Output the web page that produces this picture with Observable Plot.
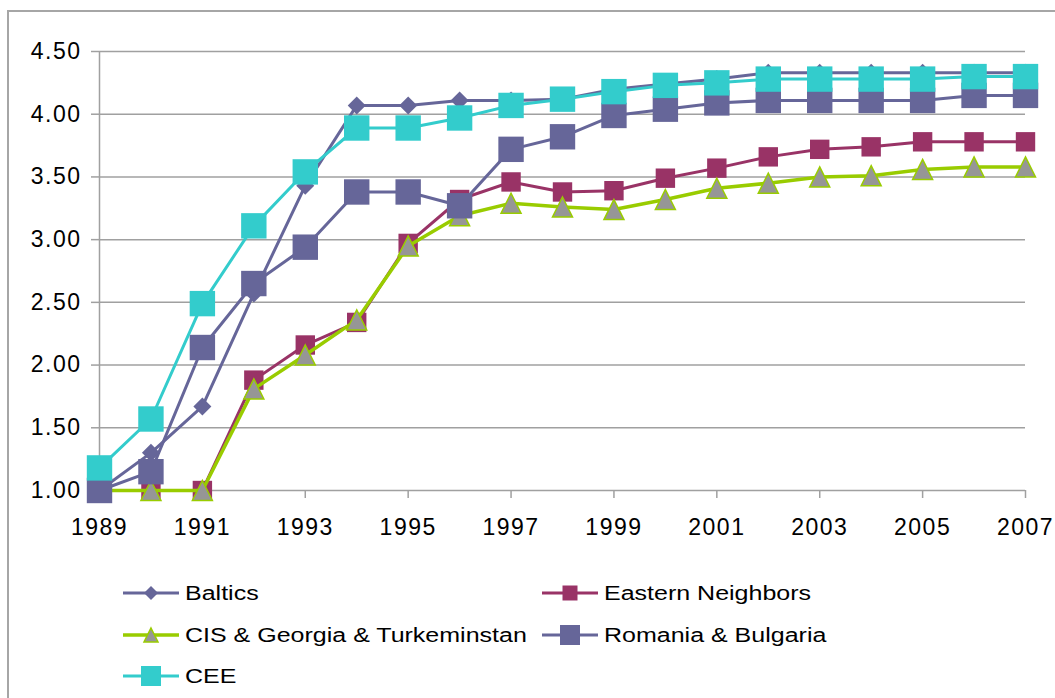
<!DOCTYPE html>
<html><head><meta charset="utf-8">
<script src="https://cdn.jsdelivr.net/npm/d3@7"></script>
<script src="https://cdn.jsdelivr.net/npm/@observablehq/plot@0.6"></script>
<style>
body{margin:0;background:#fff;width:1055px;height:698px;overflow:hidden;position:relative;font-family:"Liberation Sans",Arial,sans-serif;}
#frame{position:absolute;left:7px;top:10px;width:1100px;height:800px;border:2px solid #a6a6a6;pointer-events:none;}
#chart{position:absolute;left:0;top:0;}
#chart svg text{letter-spacing:1.5px;font-size:23px;}
.leg{position:absolute;display:flex;align-items:center;height:30px;}
.leg svg{display:block;}
.leg span{font-size:20px;display:inline-block;transform:scaleX(1.25);transform-origin:left center;margin-left:5px;white-space:nowrap;color:#000;}
</style></head><body>
<div id="chart"></div>
<div id="legend"></div>
<div id="frame"></div>
<script>
const years = [1989,1990,1991,1992,1993,1994,1995,1996,1997,1998,1999,2000,2001,2002,2003,2004,2005,2006,2007];
const xTickYears = [1989,1991,1993,1995,1997,1999,2001,2003,2005,2007];
const yTicks = [1.00,1.50,2.00,2.50,3.00,3.50,4.00,4.50];
const seriesNames = ["Baltics","Eastern Neighbors","CIS & Georgia & Turkeminstan","Romania & Bulgaria","CEE"];
const baltics  = [1.00,1.30,1.67,2.57,3.43,4.07,4.07,4.11,4.11,4.12,4.20,4.24,4.28,4.33,4.33,4.33,4.33,4.33,4.33];
const eastern  = [1.00,1.00,1.00,1.88,2.16,2.34,2.97,3.32,3.46,3.38,3.39,3.49,3.57,3.66,3.72,3.74,3.78,3.78,3.78];
const cis      = [1.00,1.00,1.00,1.81,2.08,2.36,2.95,3.19,3.29,3.26,3.24,3.32,3.41,3.45,3.50,3.51,3.56,3.58,3.58];
const romania  = [1.00,1.15,2.14,2.65,2.94,3.38,3.38,3.27,3.72,3.82,3.99,4.04,4.09,4.11,4.11,4.11,4.11,4.15,4.15];
const cee      = [1.18,1.57,2.49,3.11,3.54,3.89,3.89,3.97,4.07,4.12,4.18,4.23,4.25,4.28,4.28,4.28,4.28,4.30,4.30];

// custom symbols (r = half box size)
const sq = {draw(ctx, size){const r=Math.sqrt(size/Math.PI);ctx.moveTo(-r,-r);ctx.lineTo(r,-r);ctx.lineTo(r,r);ctx.lineTo(-r,r);ctx.closePath();}};
const dia = {draw(ctx, size){const r=Math.sqrt(size/Math.PI);ctx.moveTo(0,-r);ctx.lineTo(r,0);ctx.lineTo(0,r);ctx.lineTo(-r,0);ctx.closePath();}};
const tri = {draw(ctx, size){const r=Math.sqrt(size/Math.PI);ctx.moveTo(0,-r);ctx.lineTo(r,r);ctx.lineTo(-r,r);ctx.closePath();}};

const styles = [
  {values: baltics, line:"#666699", sw:3, symbol:dia, r:9,   fill:"#666699", stroke:"none", msw:0, lr:7},
  {values: eastern, line:"#993366", sw:3, symbol:sq,  r:9.7, fill:"#993366", stroke:"none", msw:0, lr:7.5},
  {values: cis,     line:"#99CC00", sw:3.5, symbol:tri, r:10, fill:"#969696", stroke:"#99CC00", msw:1.5, lr:7},
  {values: romania, line:"#666699", sw:3, symbol:sq,  r:12.7, fill:"#666699", stroke:"none", msw:0, lr:10},
  {values: cee,     line:"#33CCCC", sw:3, symbol:sq,  r:12.7, fill:"#33CCCC", stroke:"none", msw:0, lr:10}
];

const marks = [
  Plot.ruleY(yTicks, {stroke:"#a0a0a0", strokeWidth:1.5}),
  Plot.ruleX([years[0]], {y1: yTicks[0], y2: yTicks[yTicks.length-1], stroke:"#a0a0a0", strokeWidth:1.5}),
  Plot.axisX(xTickYears, {label:null, tickSize:8, tickPadding:20, stroke:"#a0a0a0", strokeWidth:1.5, fill:"#000", fontSize:23, tickFormat:d=>String(d)}),
  Plot.axisY(yTicks, {label:null, tickSize:8, tickPadding:10, stroke:"#a0a0a0", strokeWidth:1.5, fill:"#000", fontSize:23, tickFormat:d3.format(".2f")})
];
styles.forEach((s, i) => {
  const data = years.map((yr, j) => ({year: yr, value: s.values[j], name: seriesNames[i]}));
  marks.push(Plot.line(data, {x:"year", y:"value", stroke:s.line, strokeWidth:s.sw, strokeLinejoin:"round"}));
  marks.push(Plot.dot(data, {x:"year", y:"value", symbol:s.symbol, r:s.r, fill:s.fill, stroke:s.stroke, strokeWidth:s.msw}));
});

const chart = Plot.plot({
  width: 1055, height: 560,
  marginLeft: 99, marginRight: 30, marginTop: 51, marginBottom: 70,
  x: {domain:[1989,2007], axis:null},
  y: {domain:[1,4.5], axis:null},
  style: {background:"transparent", fontFamily:"'Liberation Sans', Arial, sans-serif", fontSize:"23px", color:"#000"},
  marks
});
document.getElementById("chart").appendChild(chart);

// legend
const legPos = [[122,593],[541,593],[122,635],[541,635],[122,676]];
const leg = document.getElementById("legend");
styles.forEach((s, i) => {
  const div = document.createElement("div");
  div.className = "leg";
  div.style.left = legPos[i][0] + "px";
  div.style.top = (legPos[i][1] - 15) + "px";
  const svg = d3.create("svg").attr("width", 58).attr("height", 30);
  svg.append("line").attr("x1",1).attr("x2",57).attr("y1",15).attr("y2",15).attr("stroke",s.line).attr("stroke-width",s.sw);
  svg.append("path").attr("transform","translate(29,15)")
    .attr("d", d3.symbol(s.symbol, s.lr*s.lr*Math.PI)())
    .attr("fill", s.fill).attr("stroke", s.stroke).attr("stroke-width", s.msw);
  div.appendChild(svg.node());
  const sp = document.createElement("span");
  sp.textContent = seriesNames[i];
  div.appendChild(sp);
  leg.appendChild(div);
});
</script>
</body></html>
